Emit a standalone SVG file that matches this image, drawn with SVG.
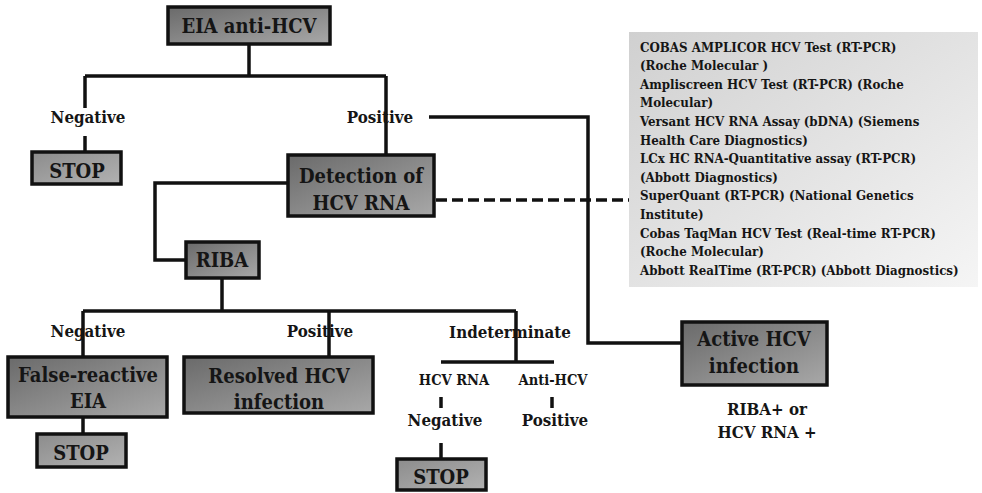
<svg xmlns="http://www.w3.org/2000/svg" width="982" height="493" viewBox="0 0 982 493">
<style>
.box{stroke:#111;stroke-width:3.5;fill:url(#gDark)}
.stop{stroke:#111;stroke-width:3.5;fill:url(#gStop)}
text{font-family:'DejaVu Serif Condensed','DejaVu Serif','Liberation Serif',serif;font-stretch:condensed;font-weight:bold;fill:#151515}
.bt{font-size:20px;text-anchor:middle}
.lb{font-size:16.8px;text-anchor:middle}
.sm{font-size:14.5px;text-anchor:middle}
.info{font-size:13.2px}
.c{fill:none;stroke:#111;stroke-width:3.5}
.d{fill:none;stroke:#111;stroke-width:3.5;stroke-dasharray:11 5}
</style>
<defs>
<linearGradient id="gDark" x1="0" y1="0" x2="1" y2="1">
<stop offset="0" stop-color="#6a6a6a"/><stop offset="1" stop-color="#a8a8a8"/>
</linearGradient>
<linearGradient id="gStop" x1="0" y1="0" x2="1" y2="1">
<stop offset="0" stop-color="#8c8c8c"/><stop offset="1" stop-color="#b2b2b2"/>
</linearGradient>
<linearGradient id="gInfo" x1="0" y1="0" x2="1" y2="1">
<stop offset="0" stop-color="#d0d0d0"/><stop offset="1" stop-color="#f5f5f5"/>
</linearGradient>
</defs>
<rect width="982" height="493" fill="#fff"/>
<g id="connectors">
<path class="c" d="M249 44V76"/>
<path class="c" d="M85 76H386"/>
<path class="c" d="M85 76V108"/>
<path class="c" d="M85 136V152"/>
<path class="c" d="M386 76V155"/>
<path class="c" d="M429 117H588V343H682"/>
<path class="c" d="M288 183H155V260H186"/>
<path class="c" d="M222 278V311"/>
<path class="c" d="M83 311H516"/>
<path class="c" d="M83 311V357"/>
<path class="c" d="M329 311V357"/>
<path class="c" d="M516 311V362"/>
<path class="c" d="M441 362H554"/>
<path class="c" d="M83 417V434"/>
<path class="c" d="M441 397V408"/>
<path class="c" d="M552 397V408"/>
<path class="c" d="M441 443V459"/>
<path class="d" d="M436 200H629"/>
</g>
<g id="eia">
<rect class="box" x="168" y="7" width="162" height="37"/>
<text class="bt" x="249" y="33">EIA anti-HCV</text>
</g>
<g id="neg1"><text class="lb" x="88" y="123">Negative</text></g>
<g id="pos1"><text class="lb" x="380" y="123">Positive</text></g>
<g id="stop1">
<rect class="stop" x="32" y="152" width="89" height="32"/>
<text class="bt" x="77" y="178">STOP</text>
</g>
<g id="detection">
<rect class="box" x="288" y="155" width="146" height="61"/>
<text class="bt" x="361" y="183">Detection of</text>
<text class="bt" x="361" y="210">HCV RNA</text>
</g>
<g id="assays">
<rect x="629" y="32" width="349" height="255" fill="url(#gInfo)"/>
<text class="info" x="640" y="51.5">COBAS AMPLICOR HCV Test (RT-PCR)</text>
<text class="info" x="640" y="70.1">(Roche Molecular )</text>
<text class="info" x="640" y="88.7">Ampliscreen HCV Test (RT-PCR) (Roche</text>
<text class="info" x="640" y="107.3">Molecular)</text>
<text class="info" x="640" y="125.9">Versant HCV RNA Assay (bDNA) (Siemens</text>
<text class="info" x="640" y="144.5">Health Care Diagnostics)</text>
<text class="info" x="640" y="163.1">LCx HC RNA-Quantitative assay (RT-PCR)</text>
<text class="info" x="640" y="181.7">(Abbott Diagnostics)</text>
<text class="info" x="640" y="200.3">SuperQuant (RT-PCR) (National Genetics</text>
<text class="info" x="640" y="218.9">Institute)</text>
<text class="info" x="640" y="237.5">Cobas TaqMan HCV Test (Real-time RT-PCR)</text>
<text class="info" x="640" y="256.1">(Roche Molecular)</text>
<text class="info" x="640" y="274.7">Abbott RealTime (RT-PCR) (Abbott Diagnostics)</text>
</g>
<g id="riba">
<rect class="box" x="186" y="242" width="73" height="36"/>
<text class="bt" x="222" y="267">RIBA</text>
</g>
<g id="neg2"><text class="lb" x="88" y="337">Negative</text></g>
<g id="pos2"><text class="lb" x="320" y="337">Positive</text></g>
<g id="indet"><text class="lb" x="510" y="338">Indeterminate</text></g>
<g id="false">
<rect class="box" x="8" y="357" width="159" height="60"/>
<text class="bt" x="88" y="382">False-reactive</text>
<text class="bt" x="88" y="408">EIA</text>
</g>
<g id="resolved">
<rect class="box" x="184" y="357" width="189" height="56"/>
<text class="bt" x="279" y="383">Resolved HCV</text>
<text class="bt" x="279" y="409">infection</text>
</g>
<g id="stop2">
<rect class="stop" x="37" y="434" width="89" height="33"/>
<text class="bt" x="81" y="460">STOP</text>
</g>
<g id="hcvrna"><text class="sm" x="454" y="385">HCV RNA</text></g>
<g id="antihcv"><text class="sm" x="553" y="385">Anti-HCV</text></g>
<g id="neg3"><text class="lb" x="445" y="426">Negative</text></g>
<g id="pos3"><text class="lb" x="555" y="426">Positive</text></g>
<g id="stop3">
<rect class="stop" x="397" y="459" width="89" height="31"/>
<text class="bt" x="441" y="484">STOP</text>
</g>
<g id="active">
<rect class="box" x="682" y="322" width="145" height="63"/>
<text class="bt" x="754" y="346">Active HCV</text>
<text class="bt" x="754" y="373">infection</text>
</g>
<g id="criteria">
<text class="lb" x="767" y="415">RIBA+ or</text>
<text class="lb" x="767" y="438">HCV RNA +</text>
</g>
</svg>
